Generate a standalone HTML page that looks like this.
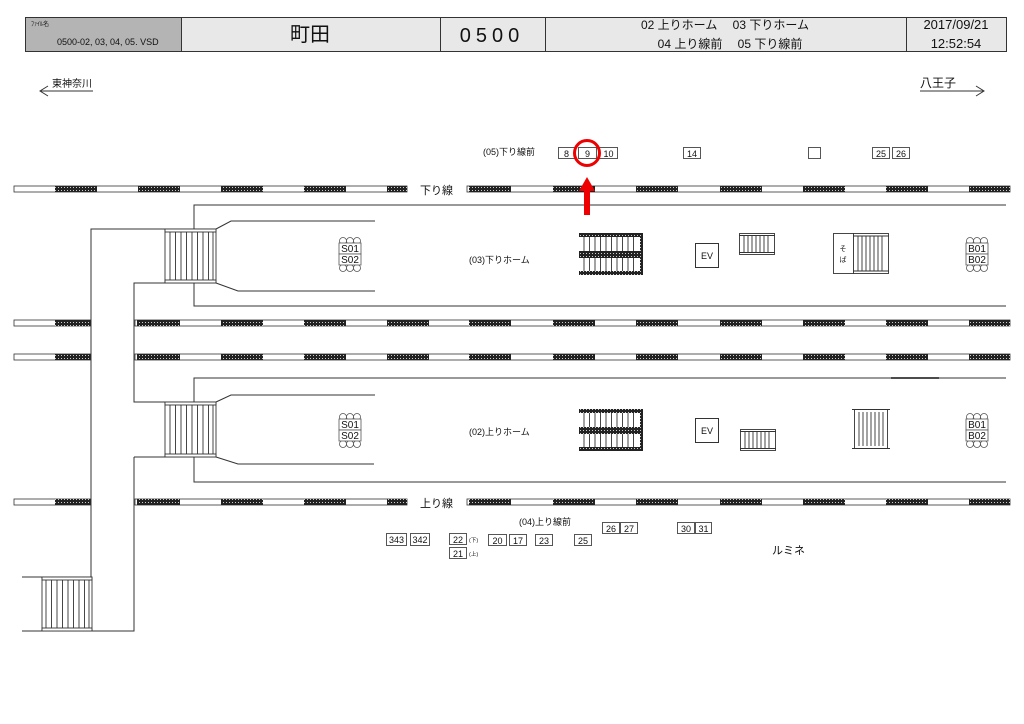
<!DOCTYPE html>
<html><head><meta charset="utf-8"><style>
html,body{margin:0;padding:0;background:#fff;width:1024px;height:724px;overflow:hidden}
svg{display:block}
text{font-family:"Liberation Sans","Noto Sans CJK JP",sans-serif;fill:#111}
</style></head><body>
<svg width="1024" height="724" viewBox="0 0 1024 724" xmlns="http://www.w3.org/2000/svg">
<defs>
<pattern id="d" width="3" height="3" patternUnits="userSpaceOnUse"><rect width="3" height="3" fill="#222"/><rect x="1" y="1" width="1" height="1" fill="#ccc"/></pattern>
<g id="sign"><g fill="#fff" stroke="#555" stroke-width="0.8"><circle cx="343" cy="241" r="3.5"/><circle cx="350" cy="241" r="3.5"/><circle cx="357" cy="241" r="3.5"/><circle cx="343" cy="268" r="3.5"/><circle cx="350" cy="268" r="3.5"/><circle cx="357" cy="268" r="3.5"/><rect x="339" y="243" width="22" height="11"/><rect x="339" y="254" width="22" height="11"/></g></g>
</defs>
<!-- header -->
<rect x="25.5" y="17.5" width="156" height="34" fill="#b4b4b4" stroke="#333"/>
<rect x="181.5" y="17.5" width="825" height="34" fill="#e8e8e8" stroke="#333"/>
<g stroke="#333"><line x1="440.5" y1="17" x2="440.5" y2="52"/><line x1="545.5" y1="17" x2="545.5" y2="52"/><line x1="906.5" y1="17" x2="906.5" y2="52"/></g>
<text x="31" y="26" font-size="6">ﾌｧｲﾙ名</text>
<text x="57" y="45" font-size="9">0500-02, 03, 04, 05. VSD</text>
<text x="310" y="41" font-size="20" text-anchor="middle">町田</text>
<text x="492" y="42" font-size="20" text-anchor="middle" letter-spacing="5">0500</text>
<text x="725" y="29" font-size="12" text-anchor="middle">02 上りホーム　 03 下りホーム</text>
<text x="730" y="48" font-size="12" text-anchor="middle">04 上り線前　 05 下り線前</text>
<text x="956" y="29" font-size="13" text-anchor="middle">2017/09/21</text>
<text x="956" y="48" font-size="13" text-anchor="middle">12:52:54</text>
<!-- direction arrows -->
<text x="52" y="87" font-size="10">東神奈川</text>
<path d="M40 91H93M48 86L40 91L48 96" stroke="#333" fill="none"/>
<text x="920" y="87" font-size="12">八王子</text>
<path d="M920 91H984M976 86L984 91L976 96" stroke="#333" fill="none"/>

<!-- tracks -->
<g stroke="#333" stroke-width="0.8">
<!-- track1 -->
<rect x="14" y="186" width="393" height="6" fill="#fff"/>
<rect x="467" y="186" width="543" height="6" fill="#fff"/>
<!-- track2 -->
<rect x="14" y="320" width="77" height="6" fill="#fff"/>
<rect x="135" y="320" width="875" height="6" fill="#fff"/>
<!-- track3 -->
<rect x="14" y="354" width="77" height="6" fill="#fff"/>
<rect x="135" y="354" width="875" height="6" fill="#fff"/>
<!-- track4 -->
<rect x="14" y="499" width="77" height="6" fill="#fff"/>
<rect x="135" y="499" width="272" height="6" fill="#fff"/>
<rect x="467" y="499" width="543" height="6" fill="#fff"/>
</g>
<g fill="url(#d)">
<!-- track1 dark -->
<rect x="55" y="186" width="42" height="6"/><rect x="138" y="186" width="42" height="6"/><rect x="221" y="186" width="42" height="6"/><rect x="304" y="186" width="42" height="6"/><rect x="387" y="186" width="20" height="6"/>
<rect x="469" y="186" width="42" height="6"/><rect x="553" y="186" width="42" height="6"/><rect x="636" y="186" width="42" height="6"/><rect x="720" y="186" width="42" height="6"/><rect x="803" y="186" width="42" height="6"/><rect x="886" y="186" width="42" height="6"/><rect x="969" y="186" width="41" height="6"/>
<!-- track2 -->
<rect x="55" y="320" width="36" height="6"/><rect x="137" y="320" width="43" height="6"/><rect x="221" y="320" width="42" height="6"/><rect x="304" y="320" width="42" height="6"/><rect x="387" y="320" width="42" height="6"/>
<rect x="469" y="320" width="42" height="6"/><rect x="553" y="320" width="42" height="6"/><rect x="636" y="320" width="42" height="6"/><rect x="720" y="320" width="42" height="6"/><rect x="803" y="320" width="42" height="6"/><rect x="886" y="320" width="42" height="6"/><rect x="969" y="320" width="41" height="6"/>
<!-- track3 -->
<rect x="55" y="354" width="36" height="6"/><rect x="137" y="354" width="43" height="6"/><rect x="221" y="354" width="42" height="6"/><rect x="304" y="354" width="42" height="6"/><rect x="387" y="354" width="42" height="6"/>
<rect x="469" y="354" width="42" height="6"/><rect x="553" y="354" width="42" height="6"/><rect x="636" y="354" width="42" height="6"/><rect x="720" y="354" width="42" height="6"/><rect x="803" y="354" width="42" height="6"/><rect x="886" y="354" width="42" height="6"/><rect x="969" y="354" width="41" height="6"/>
<!-- track4 -->
<rect x="55" y="499" width="36" height="6"/><rect x="137" y="499" width="43" height="6"/><rect x="221" y="499" width="42" height="6"/><rect x="304" y="499" width="42" height="6"/><rect x="387" y="499" width="20" height="6"/>
<rect x="469" y="499" width="42" height="6"/><rect x="553" y="499" width="42" height="6"/><rect x="636" y="499" width="42" height="6"/><rect x="720" y="499" width="42" height="6"/><rect x="803" y="499" width="42" height="6"/><rect x="886" y="499" width="42" height="6"/><rect x="969" y="499" width="41" height="6"/>
</g>
<text x="420" y="194" font-size="11">下り線</text>
<text x="420" y="507" font-size="11">上り線</text>

<!-- platforms & corridors -->
<g stroke="#333" stroke-width="1" fill="none">
<path d="M194 229V205H1006M194 283V306H1006"/>
<path d="M216 229L231 221H375M216 283L238 291H375"/>
<path d="M194 402V378H1006M194 457V482H1006"/>
<path d="M216 402L231 395H375M216 457L238 464H374"/>
<path d="M165 229H91V577M165 283H134V402H165M134 457H165M134 457V631H22M42 577H22"/>
</g>
<line x1="891" y1="378" x2="939" y2="378" stroke="#111" stroke-width="1.6"/>
<!-- left stairs -->
<g stroke="#333" stroke-width="0.9" fill="#fff">
<rect x="165" y="229" width="51" height="54"/>
<rect x="165" y="229" width="51" height="3"/><rect x="165" y="280" width="51" height="3"/>
<path d="M170 232V280M175.5 232V280M181 232V280M186.5 232V280M192 232V280M197.5 232V280M203 232V280M208.5 232V280M213 232V280"/>
<rect x="165" y="402" width="51" height="55"/>
<rect x="165" y="402" width="51" height="3"/><rect x="165" y="454" width="51" height="3"/>
<path d="M170 405V454M175.5 405V454M181 405V454M186.5 405V454M192 405V454M197.5 405V454M203 405V454M208.5 405V454M213 405V454"/>
<rect x="42" y="577" width="50" height="54"/>
<rect x="42" y="577" width="50" height="3"/><rect x="42" y="628" width="50" height="3"/>
<path d="M46 580V628M51.5 580V628M57 580V628M62.5 580V628M68 580V628M73.5 580V628M79 580V628M84.5 580V628M89 580V628"/>
</g>
<!-- signs -->
<use href="#sign"/>
<use href="#sign" transform="translate(0,176)"/>
<use href="#sign" transform="translate(627,0)"/>
<use href="#sign" transform="translate(627,176)"/>
<g font-size="10" text-anchor="middle"><text x="350" y="252">S01</text><text x="350" y="263">S02</text><text x="350" y="428">S01</text><text x="350" y="439">S02</text><text x="977" y="252">B01</text><text x="977" y="263">B02</text><text x="977" y="428">B01</text><text x="977" y="439">B02</text></g>

<!-- dotted escalators -->
<g stroke="#333" stroke-width="0.9" fill="none">
<path d="M584 233V275M589.5 233V275M595 233V275M600.5 233V275M606 233V275M611.5 233V275M617 233V275M622.5 233V275M628 233V275M633.5 233V275"/>
<path d="M584 409V451M589.5 409V451M595 409V451M600.5 409V451M606 409V451M611.5 409V451M617 409V451M622.5 409V451M628 409V451M633.5 409V451"/>
</g>
<g fill="url(#d)">
<rect x="579" y="233" width="64" height="4"/><rect x="579" y="251" width="62" height="7"/><rect x="579" y="271" width="64" height="4"/><rect x="640" y="233" width="3" height="42"/>
<rect x="579" y="409" width="64" height="4"/><rect x="579" y="427" width="62" height="7"/><rect x="579" y="447" width="64" height="4"/><rect x="640" y="409" width="3" height="42"/>
</g>
<!-- EV -->
<g stroke="#333" fill="#fff"><rect x="695.5" y="243.5" width="23" height="24"/><rect x="695.5" y="418.5" width="23" height="24"/></g>
<text x="707" y="259" font-size="9" text-anchor="middle">EV</text>
<text x="707" y="434" font-size="9" text-anchor="middle">EV</text>
<!-- small stairs -->
<g stroke="#333" stroke-width="0.9" fill="#fff">
<rect x="739.5" y="233.5" width="35" height="21"/>
<path d="M739 235.5H775M739 252.5H775M744 235V253M748 235V253M752 235V253M756 235V253M760 235V253M764 235V253M768 235V253"/>
<rect x="740.5" y="429.5" width="35" height="21"/>
<path d="M740 431.5H776M740 448.5H776M745 431V449M749 431V449M753 431V449M757 431V449M761 431V449M765 431V449M769 431V449"/>
<!-- soba + stair -->
<rect x="833.5" y="233.5" width="20" height="40"/>
<rect x="853.5" y="233.5" width="35" height="40"/>
<path d="M853 236H889M853 271H889M858 236V271M862 236V271M866 236V271M870 236V271M874 236V271M878 236V271M882 236V271"/>
<!-- lower big stair -->
<rect x="854.5" y="409.5" width="33" height="39"/>
<path d="M852 409.5H890M852 448.5H890M859 412V446M863 412V446M867 412V446M871 412V446M875 412V446M879 412V446M883 412V446"/>
</g>
<text x="843" y="251" font-size="7" text-anchor="middle">そ</text>
<text x="843" y="262" font-size="7" text-anchor="middle">ば</text>

<!-- labels -->
<text x="483" y="155" font-size="9">(05)下り線前</text>
<text x="469" y="263" font-size="9">(03)下りホーム</text>
<text x="469" y="435" font-size="9">(02)上りホーム</text>
<text x="519" y="525" font-size="9">(04)上り線前</text>
<text x="772" y="554" font-size="11">ルミネ</text>

<!-- number boxes -->
<g stroke="#444" stroke-width="0.9" fill="#fff">
<rect x="558.5" y="147.5" width="16" height="11"/><rect x="578.5" y="147.5" width="18" height="11"/><rect x="599.5" y="147.5" width="18" height="11"/>
<rect x="683.5" y="147.5" width="17" height="11"/><rect x="808.5" y="147.5" width="12" height="11"/>
<rect x="872.5" y="147.5" width="17" height="11"/><rect x="892.5" y="147.5" width="17" height="11"/>
<rect x="386.5" y="533.5" width="20" height="12"/><rect x="410.5" y="533.5" width="19" height="12"/>
<rect x="449.5" y="533.5" width="17" height="11"/><rect x="449.5" y="547.5" width="17" height="11"/>
<rect x="488.5" y="534.5" width="18" height="11"/><rect x="509.5" y="534.5" width="17" height="11"/><rect x="535.5" y="534.5" width="17" height="11"/><rect x="574.5" y="534.5" width="17" height="11"/>
<rect x="602.5" y="522.5" width="17" height="11"/><rect x="620.5" y="522.5" width="17" height="11"/>
<rect x="677.5" y="522.5" width="17" height="11"/><rect x="695.5" y="522.5" width="16" height="11"/>
</g>
<g font-size="9" text-anchor="middle">
<text x="566.5" y="157">8</text><text x="587.5" y="157">9</text><text x="608.5" y="157">10</text>
<text x="692" y="157">14</text><text x="881" y="157">25</text><text x="901" y="157">26</text>
<text x="396.5" y="543">343</text><text x="420" y="543">342</text>
<text x="458" y="543">22</text><text x="458" y="557">21</text>
<text x="497.5" y="544">20</text><text x="518" y="544">17</text><text x="544" y="544">23</text><text x="583" y="544">25</text>
<text x="611" y="532">26</text><text x="629" y="532">27</text><text x="686" y="532">30</text><text x="703.5" y="532">31</text>
</g>
<text x="469" y="542" font-size="5.5">(下)</text>
<text x="469" y="556" font-size="5.5">(上)</text>

<!-- red marker -->
<circle cx="587" cy="153" r="12.5" fill="none" stroke="#e00" stroke-width="3"/>
<rect x="584" y="190" width="6" height="25" fill="#e00"/>
<polygon points="587,177 579,191 595,191" fill="#e00"/>
</svg>
</body></html>
